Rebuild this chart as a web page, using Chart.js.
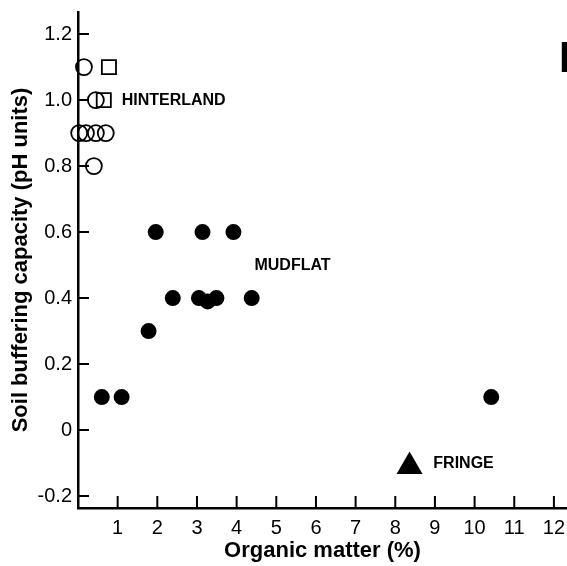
<!DOCTYPE html>
<html>
<head>
<meta charset="utf-8">
<script src="https://cdn.jsdelivr.net/npm/chart.js@4.4.1/dist/chart.umd.min.js"></script>
<style>
  html, body { margin: 0; padding: 0; background: #fff; }
</style>
</head>
<body>
<canvas id="bufferChart" width="567" height="566"></canvas>
<script>
// values
const hinterlandCircleX = [0.15, 0.45, 0.03, 0.2, 0.45, 0.7, 0.4];
const hinterlandCircleY = [1.1, 1.0, 0.9, 0.9, 0.9, 0.9, 0.8];
const hinterlandSquareX = [0.78, 0.65];
const hinterlandSquareY = [1.1, 1.0];
const mudflatX = [1.96, 3.14, 3.92, 2.39, 3.05, 3.27, 3.49, 4.38, 1.78, 0.6, 1.1, 10.42];
const mudflatY = [0.6, 0.6, 0.6, 0.4, 0.4, 0.39, 0.4, 0.4, 0.3, 0.1, 0.1, 0.1];
const fringeX = [8.36];
const fringeY = [-0.11];

const xTicks = [1, 2, 3, 4, 5, 6, 7, 8, 9, 10, 11, 12];
const yTicks = [-0.2, 0, 0.2, 0.4, 0.6, 0.8, 1.0, 1.2];

const groupLabels = ['HINTERLAND', 'MUDFLAT', 'FRINGE'];
const groupLabelX = [1.1, 4.45, 8.96];
const groupLabelY = [1.0, 0.5, -0.1];

const toPoints = (xs, ys) => xs.map((v, i) => ({ x: v, y: ys[i] }));

Chart.defaults.font.family = '"Liberation Sans", Arial, sans-serif';
Chart.defaults.color = '#000';

// tick marks point into the plot, plus the group labels and panel letter
const figureExtras = {
  id: 'figureExtras',
  afterDraw(chart) {
    const { ctx, chartArea, scales: { x, y } } = chart;
    ctx.save();
    ctx.strokeStyle = '#000';
    ctx.lineWidth = 2;
    ctx.beginPath();
    yTicks.forEach(v => {
      const py = y.getPixelForValue(v);
      ctx.moveTo(chartArea.left, py);
      ctx.lineTo(chartArea.left + 11, py);
    });
    xTicks.forEach(v => {
      const px = x.getPixelForValue(v);
      ctx.moveTo(px, chartArea.bottom);
      ctx.lineTo(px, chartArea.bottom - 12);
    });
    ctx.stroke();

    ctx.fillStyle = '#000';
    ctx.font = 'bold 16px "Liberation Sans", Arial, sans-serif';
    ctx.textAlign = 'left';
    ctx.textBaseline = 'middle';
    groupLabels.forEach((t, i) => {
      ctx.fillText(t, x.getPixelForValue(groupLabelX[i]), y.getPixelForValue(groupLabelY[i]));
    });

    ctx.font = 'bold 40px "Liberation Sans", Arial, sans-serif';
    ctx.textBaseline = 'alphabetic';
    ctx.fillText('b', x.getPixelForValue(12.13), y.getPixelForValue(1.085));
    ctx.restore();
  }
};

const noPad = s => { s.paddingTop = 0; s.paddingBottom = 0; s.paddingLeft = 0; s.paddingRight = 0; };

new Chart(document.getElementById('bufferChart'), {
  type: 'scatter',
  data: {
    datasets: [
      {
        label: 'Hinterland',
        data: toPoints(hinterlandCircleX, hinterlandCircleY),
        pointStyle: 'circle',
        pointRadius: 8,
        backgroundColor: 'rgba(0,0,0,0)',
        borderColor: '#000',
        borderWidth: 1.8,
        clip: false
      },
      {
        label: 'Hinterland (square)',
        data: toPoints(hinterlandSquareX, hinterlandSquareY),
        pointStyle: 'rect',
        pointRadius: 10,
        backgroundColor: 'rgba(0,0,0,0)',
        borderColor: '#000',
        borderWidth: 1.8,
        clip: false
      },
      {
        label: 'Mudflat',
        data: toPoints(mudflatX, mudflatY),
        pointStyle: 'circle',
        pointRadius: 8,
        backgroundColor: '#000',
        borderColor: '#000',
        borderWidth: 0,
        clip: false
      },
      {
        label: 'Fringe',
        data: toPoints(fringeX, fringeY),
        pointStyle: 'triangle',
        pointRadius: 15,
        backgroundColor: '#000',
        borderColor: '#000',
        borderWidth: 0,
        clip: false
      }
    ]
  },
  options: {
    responsive: false,
    animation: false,
    layout: { autoPadding: false, padding: { left: 0, top: 12, right: 0, bottom: 0 } },
    plugins: { legend: { display: false }, tooltip: { enabled: false } },
    scales: {
      x: {
        type: 'linear',
        min: 0,
        max: 12.33,
        grid: { display: false, drawTicks: false },
        border: { display: true, color: '#000', width: 2.5 },
        afterBuildTicks: s => { s.ticks = xTicks.map(v => ({ value: v })); },
        afterFit: s => { s.height = 58; noPad(s); },
        ticks: {
          padding: 8,
          maxRotation: 0,
          font: { size: 20 },
          callback: v => String(v)
        },
        title: {
          display: true,
          text: 'Organic matter (%)',
          font: { size: 22, weight: 'bold' },
          padding: { top: 0, bottom: 2 }
        }
      },
      y: {
        type: 'linear',
        min: -0.236,
        max: 1.267,
        grid: { display: false, drawTicks: false },
        border: { display: true, color: '#000', width: 2.5 },
        afterBuildTicks: s => { s.ticks = yTicks.map(v => ({ value: v })); },
        afterFit: s => { s.width = 78; noPad(s); },
        ticks: {
          padding: 6,
          font: { size: 20 },
          callback: v => (v === 0 ? '0' : v.toFixed(1))
        },
        title: {
          display: true,
          text: 'Soil buffering capacity (pH units)',
          font: { size: 22, weight: 'bold' },
          padding: { top: 8, bottom: 0 }
        }
      }
    }
  },
  plugins: [figureExtras]
});
</script>
</body>
</html>
